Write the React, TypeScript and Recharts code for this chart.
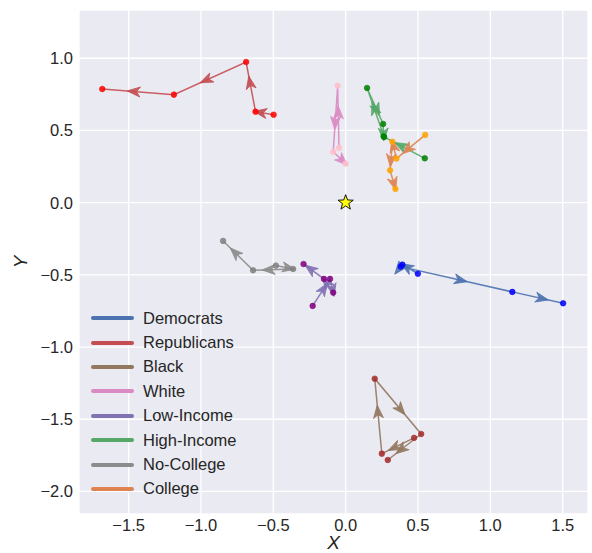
import React from 'react';
import { ScatterChart, Scatter, XAxis, YAxis, CartesianGrid } from 'recharts';

type Pt = { x: number; y: number };

// trajectories, in drawing order (start -> end)
const democrats: Pt[] = [
  { x: 0.499, y: -0.492 },
  { x: 0.392, y: -0.429 },
  { x: 0.381, y: -0.443 },
  { x: 1.152, y: -0.618 },
  { x: 1.503, y: -0.697 },
];
const republicans: Pt[] = [
  { x: -0.498, y: 0.609 },
  { x: -0.623, y: 0.63 },
  { x: -0.688, y: 0.974 },
  { x: -1.187, y: 0.748 },
  { x: -1.682, y: 0.787 },
];
const black: Pt[] = [
  { x: 0.473, y: -1.629 },
  { x: 0.25, y: -1.738 },
  { x: 0.201, y: -1.219 },
  { x: 0.522, y: -1.602 },
  { x: 0.291, y: -1.782 },
];
const white: Pt[] = [
  { x: -0.046, y: 0.379 },
  { x: -0.055, y: 0.81 },
  { x: -0.086, y: 0.353 },
  { x: 0.0, y: 0.27 },
];
const lowIncome: Pt[] = [
  { x: -0.228, y: -0.715 },
  { x: -0.108, y: -0.528 },
  { x: -0.086, y: -0.623 },
  { x: -0.15, y: -0.528 },
  { x: -0.291, y: -0.425 },
];
const highIncome: Pt[] = [
  { x: 0.547, y: 0.307 },
  { x: 0.266, y: 0.455 },
  { x: 0.148, y: 0.794 },
  { x: 0.259, y: 0.545 },
  { x: 0.262, y: 0.46 },
];
const noCollege: Pt[] = [
  { x: -0.482, y: -0.436 },
  { x: -0.363, y: -0.459 },
  { x: -0.64, y: -0.468 },
  { x: -0.847, y: -0.265 },
];
const college: Pt[] = [
  { x: 0.55, y: 0.469 },
  { x: 0.351, y: 0.305 },
  { x: 0.323, y: 0.422 },
  { x: 0.307, y: 0.224 },
  { x: 0.344, y: 0.095 },
];
const origin: Pt[] = [{ x: 0, y: 0 }];

const xTicks = [-1.5, -1.0, -0.5, 0.0, 0.5, 1.0, 1.5];
const yTicks = [-2.0, -1.5, -1.0, -0.5, 0.0, 0.5, 1.0];

const series = [
  { name: 'Democrats', data: democrats, line: '#4c72b0', dot: '#0000ff' },
  { name: 'Republicans', data: republicans, line: '#c44e52', dot: '#ff0000' },
  { name: 'Black', data: black, line: '#937860', dot: '#a52a2a' },
  { name: 'White', data: white, line: '#da8bc3', dot: '#ffc0cb' },
  { name: 'Low-Income', data: lowIncome, line: '#8172b3', dot: '#800080' },
  { name: 'High-Income', data: highIncome, line: '#55a868', dot: '#008000' },
  { name: 'No-College', data: noCollege, line: '#8c8c8c', dot: '#808080' },
  { name: 'College', data: college, line: '#dd8452', dot: '#ffa500' },
];

const FONT = '"Liberation Sans", Arial, sans-serif';
const fmt = (v: number) => v.toFixed(1).replace('-', '\u2212');

// polyline plus a dart-shaped head on every segment, starting at its midpoint
function ArrowPath(props: any) {
  const { points = [], color } = props;
  if (points.length < 2) return null;
  const d = points.map((p: any, i: number) => `${i ? 'L' : 'M'}${p.x},${p.y}`).join(' ');
  const heads: string[] = [];
  for (let i = 1; i < points.length; i++) {
    const a = points[i - 1];
    const b = points[i];
    const dx = b.x - a.x;
    const dy = b.y - a.y;
    const len = Math.hypot(dx, dy);
    if (len < 0.5) continue;
    const ux = dx / len, uy = dy / len;
    const nx = -uy, ny = ux;
    const mx = (a.x + b.x) / 2 - ux * 2, my = (a.y + b.y) / 2 - uy * 2;
    const L = 13, W = 5, D = 3.5;
    heads.push(
      `M${mx + ux * L},${my + uy * L} L${mx + nx * W},${my + ny * W} L${mx + ux * D},${my + uy * D} L${mx - nx * W},${my - ny * W} Z`
    );
  }
  return (
    <g>
      <path d={d} fill="none" stroke={color} strokeWidth={1.5} strokeOpacity={0.9} />
      {heads.map((h, i) => (
        <path key={i} d={h} fill={color} fillOpacity={0.9} stroke={color} strokeWidth={0.8} strokeLinejoin="miter" />
      ))}
    </g>
  );
}

function starShape(props: any) {
  const { cx, cy } = props;
  const pts: string[] = [];
  for (let i = 0; i < 10; i++) {
    const r = i % 2 === 0 ? 8 : 3.3;
    const ang = -Math.PI / 2 + (i * Math.PI) / 5;
    pts.push(`${cx + r * Math.cos(ang)},${cy + r * Math.sin(ang)}`);
  }
  return <polygon points={pts.join(' ')} fill="#ffff00" stroke="#000" strokeWidth={0.9} />;
}

function XLabel(props: any) {
  const { viewBox } = props;
  return (
    <text x={viewBox.x + viewBox.width / 2} y={549} textAnchor="middle" fontStyle="italic" fontSize={19} fill="#262626" fontFamily={FONT}>
      X
    </text>
  );
}

function YLabel(props: any) {
  const { viewBox } = props;
  const cy = viewBox.y + viewBox.height / 2;
  return (
    <text x={27} y={cy} transform={`rotate(-90, 27, ${cy})`} textAnchor="middle" fontStyle="italic" fontSize={19} fill="#262626" fontFamily={FONT}>
      Y
    </text>
  );
}

export default function App() {
  return (
    <div style={{ position: 'relative', width: 592, height: 553, background: '#fff' }}>
      <style>{'body{margin:0}'}</style>
      <ScatterChart width={592} height={553} margin={{ top: 10, right: 4, bottom: 0, left: 0 }} style={{ fontFamily: FONT }}>
        <CartesianGrid fill="#eaeaf2" fillOpacity={1} stroke="#ffffff" strokeWidth={1.3} />
        <XAxis
          type="number"
          dataKey="x"
          domain={[-1.843, 1.675]}
          ticks={xTicks}
          interval={0}
          allowDataOverflow
          axisLine={false}
          tickLine={false}
          tickSize={4}
          tickMargin={1}
          height={39}
          tickFormatter={fmt}
          tick={{ fontSize: 16.5, fill: '#262626' }}
          label={<XLabel />}
        />
        <YAxis
          type="number"
          dataKey="y"
          domain={[-2.156, 1.334]}
          ticks={yTicks}
          interval={0}
          allowDataOverflow
          axisLine={false}
          tickLine={false}
          tickSize={4}
          tickMargin={2}
          width={79}
          tickFormatter={fmt}
          tick={{ fontSize: 16.5, fill: '#262626' }}
          label={<YLabel />}
        />
        {series.map((s) => (
          <Scatter
            key={s.name}
            name={s.name}
            data={s.data}
            fill={s.line}
            line={<ArrowPath color={s.line} />}
            isAnimationActive={false}
            shape={(p: any) => (
              <circle cx={p.cx} cy={p.cy} r={2.8} fill={s.dot} fillOpacity={0.85} stroke={s.dot} strokeWidth={0.6} />
            )}
          />
        ))}
        <Scatter name="origin" data={origin} legendType="none" isAnimationActive={false} shape={starShape} />
      </ScatterChart>
      {/* legend sits inside the plot, lower left, like the matplotlib one */}
      <div style={{ position: 'absolute', left: 90, top: 306, fontFamily: FONT, fontSize: 16.5, color: '#262626' }}>
        {series.map((s) => (
          <div key={s.name} style={{ display: 'flex', alignItems: 'center', height: 24.4 }}>
            <svg width={45} height={10}>
              <line x1={3} x2={42} y1={5} y2={5} stroke={s.line} strokeWidth={4} strokeLinecap="round" />
            </svg>
            <span style={{ marginLeft: 8 }}>{s.name}</span>
          </div>
        ))}
      </div>
    </div>
  );
}
